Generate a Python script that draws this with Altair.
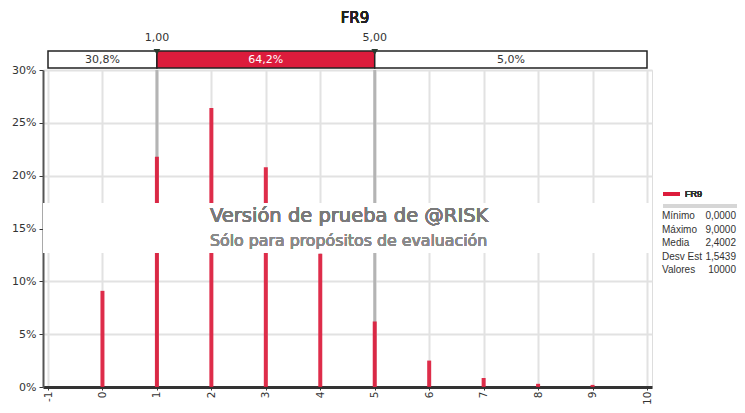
import altair as alt
import pandas as pd

# ---- data ----
values = [0, 1, 2, 3, 4, 5, 6, 7, 8, 9]
pct = [9.1, 21.8, 26.4, 20.8, 12.6, 6.2, 2.5, 0.85, 0.3, 0.2]
x_ticks = list(range(-1, 11))
y_ticks = [0, 5, 10, 15, 20, 25, 30]
delims = [1.0, 5.0]
delim_labels = ["1,00", "5,00"]
seg_start = [-1, 1, 5]
seg_end = [1, 5, 10]
seg_label = ["30,8%", "64,2%", "5,0%"]
seg_fill = ["white", "#dc1c3c", "white"]
seg_text_color = ["#333333", "white", "#333333"]
stat_names = ["Mínimo", "Máximo", "Media", "Desv Est", "Valores"]
stat_values = ["0,0000", "9,0000", "2,4002", "1,5439", "10000"]
series_name = "FR9"

W, H = 609, 317
TOP = 62
FONT = "DejaVu Sans"
FONT2 = "Liberation Sans"

bars_df = pd.DataFrame({"v": values, "p": pct})
delim_df = pd.DataFrame({"d": delims, "lab": delim_labels})
seg_df = pd.DataFrame({"s": seg_start, "e": seg_end, "lab": seg_label,
                       "fill": seg_fill, "tc": seg_text_color,
                       "mid": [(a + b) / 2 for a, b in zip(seg_start, seg_end)]})
stats_df = pd.DataFrame({"name": stat_names, "val": stat_values,
                         "row": list(range(len(stat_names)))})

xscale = alt.Scale(domain=[-1, 10], nice=False, zero=False)
yscale = alt.Scale(domain=[0, 30], nice=False)

xenc = alt.X("v:Q", scale=xscale, title=None,
             axis=alt.Axis(values=x_ticks, labelAngle=-90, labelAlign="right",
                           labelBaseline="middle", labelExpr="'' + datum.value",
                           grid=True, gridColor="#e2e2e2", gridWidth=2, tickSize=3,
                           tickColor="#333", domainColor="#333", domainWidth=3,
                           labelFontSize=10.5, labelColor="#333", labelPadding=1,
                           labelFont=FONT))
yenc = alt.Y("p:Q", scale=yscale, title=None,
             axis=alt.Axis(values=y_ticks, labelExpr="datum.value + '%'",
                           grid=True, gridColor="#e2e2e2", gridWidth=2,
                           tickSize=4, tickColor="#333", domainColor="#555",
                           domainWidth=2, labelFontSize=11, labelColor="#333",
                           labelPadding=3, labelFont=FONT))

# delimiter lines (gray)
delim_lines = alt.Chart(delim_df).mark_rule(color="#b4b4b4", strokeWidth=3).encode(
    x=alt.X("d:Q", scale=xscale), y=alt.value(0), y2=alt.value(H))

bars = alt.Chart(bars_df).mark_bar(size=4, color="#dc1c3c", opacity=0.92).encode(
    x=xenc, y=yenc)

# watermark band
band = alt.Chart(bars_df).mark_rect(fill="white", opacity=0.7).encode(
    x=alt.value(0), x2=alt.value(W), y=alt.value(133), y2=alt.value(183))
wm1 = alt.Chart(bars_df).mark_text(text="Versión de prueba de @RISK", align="left",
                                   baseline="middle", fontSize=19.5, color="#7a7a7a",
                                   fontWeight="normal", font=FONT).encode(
    x=alt.value(167), y=alt.value(146))
wm2 = alt.Chart(bars_df).mark_text(text="Sólo para propósitos de evaluación", align="left",
                                   baseline="middle", fontSize=15.8, color="#8a8a8a",
                                   fontWeight="normal", font=FONT).encode(
    x=alt.value(167), y=alt.value(171))

# top delimiter bar
seg_rect = alt.Chart(seg_df).mark_rect(stroke="#222", strokeWidth=1.5).encode(
    x=alt.X("s:Q", scale=xscale), x2="e:Q",
    y=alt.value(-19), y2=alt.value(-2),
    fill=alt.Fill("fill:N", scale=None))
seg_text = alt.Chart(seg_df).mark_text(fontSize=11, baseline="middle", font=FONT).encode(
    x=alt.X("mid:Q", scale=xscale), y=alt.value(-10), text="lab:N",
    color=alt.Color("tc:N", scale=None))
tri = alt.Chart(delim_df).mark_point(shape="triangle-down", filled=True, size=45,
                                     color="#2a3a30", opacity=1).encode(
    x=alt.X("d:Q", scale=xscale), y=alt.value(-18))
tri_text = alt.Chart(delim_df).mark_text(fontSize=11, baseline="middle", color="#333",
                                         font=FONT).encode(
    x=alt.X("d:Q", scale=xscale), y=alt.value(-32), text="lab:N")

title = alt.Chart(bars_df).mark_text(text="FR9", fontSize=15, color="#222",
                                     fontWeight="normal", baseline="middle",
                                     font=FONT).encode(
    x=alt.value(312), y=alt.value(-52))

# legend / stats
leg_line = alt.Chart(bars_df).mark_rule(color="#dc1c3c", strokeWidth=3).encode(
    x=alt.value(620), x2=alt.value(637), y=alt.value(124))
leg_text = alt.Chart(bars_df).mark_text(text=series_name, fontSize=9, align="left",
                                        baseline="middle", color="#333",
                                        fontWeight="normal", font=FONT2).encode(
    x=alt.value(642), y=alt.value(124))
sep = alt.Chart(bars_df).mark_rule(color="#d6d6d6", strokeWidth=4).encode(
    x=alt.value(620), x2=alt.value(702), y=alt.value(136))
row_scale = alt.Scale(domain=[0, 4], range=[146, 200], nice=False, zero=False)
stat_name = alt.Chart(stats_df).mark_text(fontSize=10, align="left", baseline="middle",
                                          color="#333", font=FONT2).encode(
    x=alt.value(619), y=alt.Y("row:Q", scale=row_scale, axis=None),
    text="name:N")
stat_val = alt.Chart(stats_df).mark_text(fontSize=10, align="right", baseline="middle",
                                         color="#333", font=FONT2).encode(
    x=alt.value(693), y=alt.Y("row:Q", scale=row_scale, axis=None),
    text="val:N")

chart = alt.layer(delim_lines, bars, band, wm1, wm2, seg_rect, seg_text, tri, tri_text,
                  title, leg_line, leg_text, sep, stat_name, stat_val).resolve_scale(
    y="independent").properties(
    width=W, height=H,
    autosize=alt.AutoSizeParams(type="none"),
    padding={"left": 35, "top": TOP, "right": 85, "bottom": 18},
).configure_view(fill="#f2f3f3", stroke=None).configure(background="white")

chart.save("out.html", embed_options={"renderer": "svg", "actions": False})
